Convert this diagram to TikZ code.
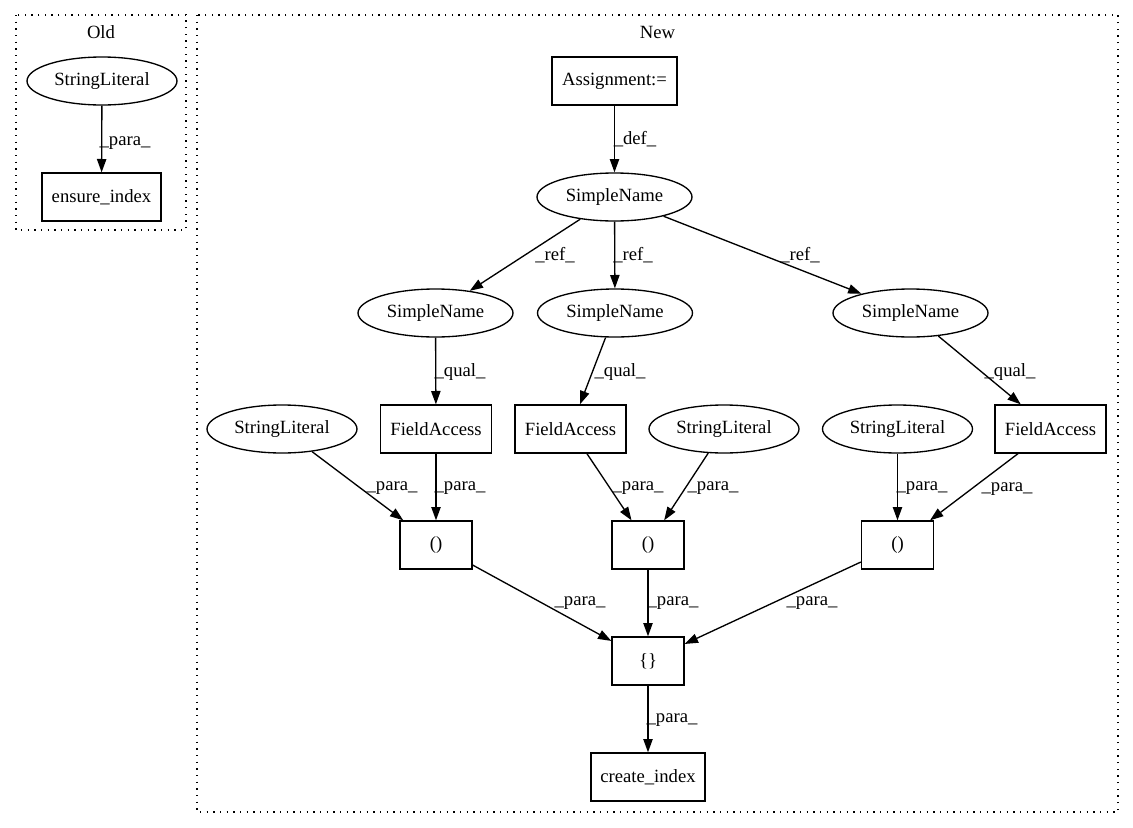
\documentclass[tikz,border=0pt]{standalone}
\usepackage{fontspec}
\setmainfont{Liberation Serif}
\usetikzlibrary{shapes.geometric,arrows.meta}
\begin{document}
\begin{tikzpicture}[x=0.75pt,y=-0.75pt,
  every node/.style={font=\fontsize{14}{16}\selectfont},
  box/.style={draw,rectangle,line width=1pt,minimum height=36pt,inner sep=0pt},
  ell/.style={draw,ellipse,line width=1pt,minimum height=36pt,inner sep=0pt},
  lbl/.style={inner sep=0pt},
  conn/.style={line width=1pt,-{Triangle[length=10pt,width=7pt]}},
  cluster/.style={line width=1pt,dash pattern=on 1pt off 4pt}]
\useasboundingbox (0,0) rectangle (1133,828);
% clusters
\draw[cluster] (16,15) rectangle (186,230);
\node[lbl] (oldlbl) at (101,32) {Old};
\draw[cluster] (197,15) rectangle (1118,812);
\node[lbl] (newlbl) at (657.5,32) {New};
% Old
\node[ell,minimum width=112.5pt] (osl) at (102,81) {StringLiteral};
\node[box,minimum width=89.25pt] (ens) at (101.5,197) {ensure\_index};
\draw[conn] (osl) -- (ens) node[lbl,at={(125,143)}] {\_para\_};
% New
\node[box,minimum width=93.75pt] (asg) at (614.5,81) {Assignment:=};
\node[ell,minimum width=116.25pt] (sn0) at (614.5,197) {SimpleName};
\node[ell,minimum width=116.25pt] (sn1) at (435.5,313) {SimpleName};
\node[ell,minimum width=116.25pt] (sn2) at (615,313) {SimpleName};
\node[ell,minimum width=116.25pt] (sn3) at (910.5,313) {SimpleName};
\node[box,minimum width=83.25pt] (fa1) at (436,429) {FieldAccess};
\node[box,minimum width=83.25pt] (fa2) at (570.5,429) {FieldAccess};
\node[box,minimum width=83.25pt] (fa3) at (1050.5,429) {FieldAccess};
\node[ell,minimum width=112.5pt] (sl1) at (282,429) {StringLiteral};
\node[ell,minimum width=112.5pt] (sl2) at (724,429) {StringLiteral};
\node[ell,minimum width=112.5pt] (sl3) at (897.5,429) {StringLiteral};
\node[box,minimum width=54pt] (p1) at (436,545) {()};
\node[box,minimum width=54pt] (p2) at (648,545) {()};
\node[box,minimum width=54pt] (p3) at (897.5,545) {()};
\node[box,minimum width=54pt] (br) at (648,661) {\{\}};
\node[box,minimum width=85.5pt] (ci) at (648,777) {create\_index};
% edges
\draw[conn] (asg) -- (sn0) node[lbl,at={(635,139)}] {\_def\_};
\draw[conn] (sn0) -- (sn1) node[lbl,at={(555,255)}] {\_ref\_};
\draw[conn] (sn0) -- (sn2) node[lbl,at={(633,255)}] {\_ref\_};
\draw[conn] (sn0) -- (sn3) node[lbl,at={(800,255)}] {\_ref\_};
\draw[conn] (sn1) -- (fa1) node[lbl,at={(460,372)}] {\_qual\_};
\draw[conn] (sn2) -- (fa2) node[lbl,at={(620,372)}] {\_qual\_};
\draw[conn] (sn3) -- (fa3) node[lbl,at={(1010,372)}] {\_qual\_};
\draw[conn] (sl1) -- (p1) node[lbl,at={(392,488)}] {\_para\_};
\draw[conn] (fa1) -- (p1) node[lbl,at={(460,488)}] {\_para\_};
\draw[conn] (fa2) -- (p2) node[lbl,at={(638,488)}] {\_para\_};
\draw[conn] (sl2) -- (p2) node[lbl,at={(713,488)}] {\_para\_};
\draw[conn] (sl3) -- (p3) node[lbl,at={(922,488)}] {\_para\_};
\draw[conn] (fa3) -- (p3) node[lbl,at={(1007,489)}] {\_para\_};
\draw[conn] (p1) -- (br) node[lbl,at={(580,603)}] {\_para\_};
\draw[conn] (p2) -- (br) node[lbl,at={(673,603)}] {\_para\_};
\draw[conn] (p3) -- (br) node[lbl,at={(812,603)}] {\_para\_};
\draw[conn] (br) -- (ci) node[lbl,at={(672,720)}] {\_para\_};
\end{tikzpicture}
\end{document}
